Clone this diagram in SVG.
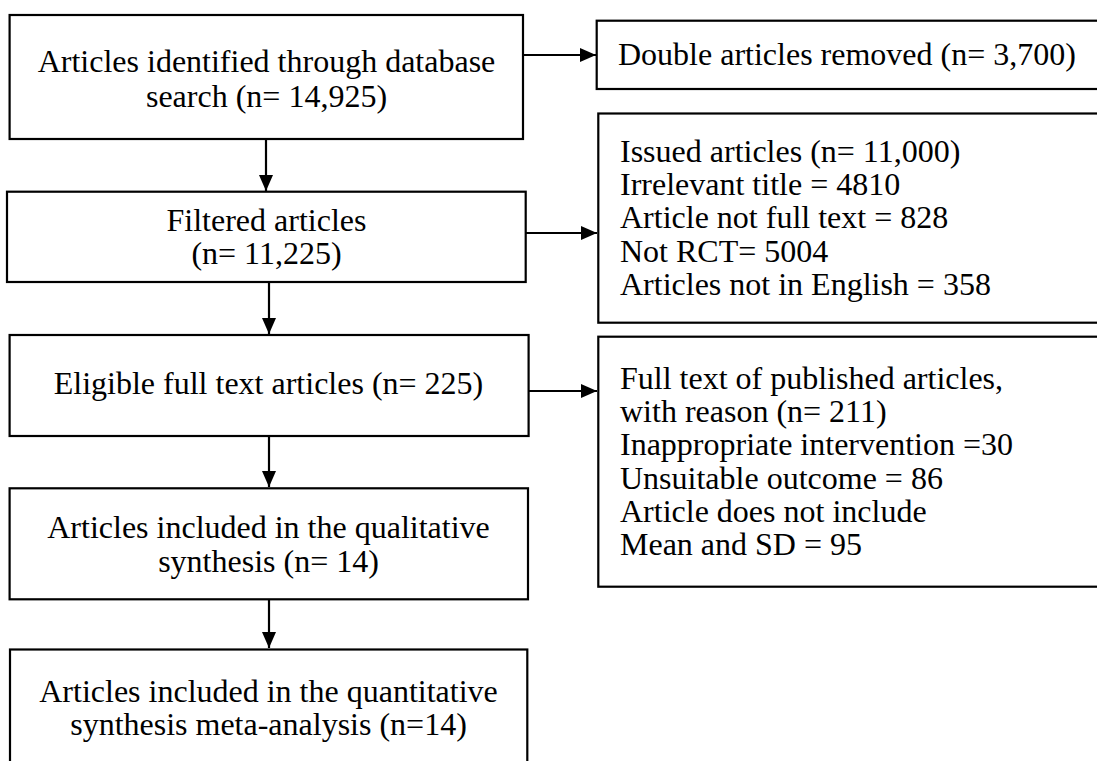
<svg xmlns="http://www.w3.org/2000/svg" width="1097" height="761" viewBox="0 0 1097 761">
<style>
.box{fill:#fff;stroke:#000;stroke-width:2.2}
.t{font-family:"Liberation Serif","Times New Roman",serif;font-size:32px;fill:#000}
.c{text-anchor:middle}
.edge{stroke:#000;stroke-width:2.2;fill:none;marker-end:url(#ah)}
</style>
<defs>
<marker id="ah" markerUnits="userSpaceOnUse" markerWidth="16" markerHeight="16" viewBox="0 0 16 14" refX="16" refY="7" orient="auto">
<path d="M0,0 L16,7 L0,14 z" fill="#000"/>
</marker>
</defs>
<rect width="1097" height="761" fill="#fff"/>
<g id="connectors">
<line class="edge" x1="523" y1="55" x2="596" y2="55"/>
<line class="edge" x1="526" y1="233" x2="597" y2="233"/>
<line class="edge" x1="529" y1="391" x2="597" y2="391"/>
<line class="edge" x1="266" y1="139" x2="266" y2="191"/>
<line class="edge" x1="269" y1="282" x2="269" y2="334"/>
<line class="edge" x1="269" y1="436" x2="269" y2="487"/>
<line class="edge" x1="269" y1="599" x2="269" y2="648"/>
</g>
<g id="n1">
<rect class="box" x="9.6" y="15" width="513.4" height="124"/>
<text class="t c" x="266.5" y="71.7">Articles identified through database</text>
<text class="t c" x="266.5" y="106.7">search (n= 14,925)</text>
</g>
<g id="n2">
<rect class="box" x="7" y="191.7" width="518.7" height="90.3"/>
<text class="t c" x="266.5" y="230.7">Filtered articles</text>
<text class="t c" x="266.5" y="264">(n= 11,225)</text>
</g>
<g id="n3">
<rect class="box" x="9.6" y="335" width="519" height="101"/>
<text class="t c" x="268.5" y="394">Eligible full text articles (n= 225)</text>
</g>
<g id="n4">
<rect class="box" x="9.6" y="488.3" width="518.4" height="111"/>
<text class="t c" x="268.5" y="538.3">Articles included in the qualitative</text>
<text class="t c" x="268.5" y="571.7">synthesis (n= 14)</text>
</g>
<g id="n5">
<rect class="box" x="10" y="649.5" width="517.3" height="130"/>
<text class="t c" x="268.5" y="701.7">Articles included in the quantitative</text>
<text class="t c" x="268.5" y="735">synthesis meta-analysis (n=14)</text>
</g>
<g id="r1">
<rect class="box" x="596.7" y="20.7" width="520" height="68.3"/>
<text class="t" x="618" y="65">Double articles removed (n= 3,700)</text>
</g>
<g id="r2">
<rect class="box" x="598.3" y="113.5" width="520" height="209.2"/>
<text class="t" x="620" y="161.7">Issued articles (n= 11,000)</text>
<text class="t" x="620" y="195">Irrelevant title = 4810</text>
<text class="t" x="620" y="228.3">Article not full text = 828</text>
<text class="t" x="620" y="261.7">Not RCT= 5004</text>
<text class="t" x="620" y="295">Articles not in English = 358</text>
</g>
<g id="r3">
<rect class="box" x="598.3" y="336.7" width="520" height="250"/>
<text class="t" x="620" y="388.7">Full text of published articles,</text>
<text class="t" x="620" y="422">with reason (n= 211)</text>
<text class="t" x="620" y="455.3">Inappropriate intervention =30</text>
<text class="t" x="620" y="488.6">Unsuitable outcome = 86</text>
<text class="t" x="620" y="521.9">Article does not include</text>
<text class="t" x="620" y="555.2">Mean and SD = 95</text>
</g>
</svg>
